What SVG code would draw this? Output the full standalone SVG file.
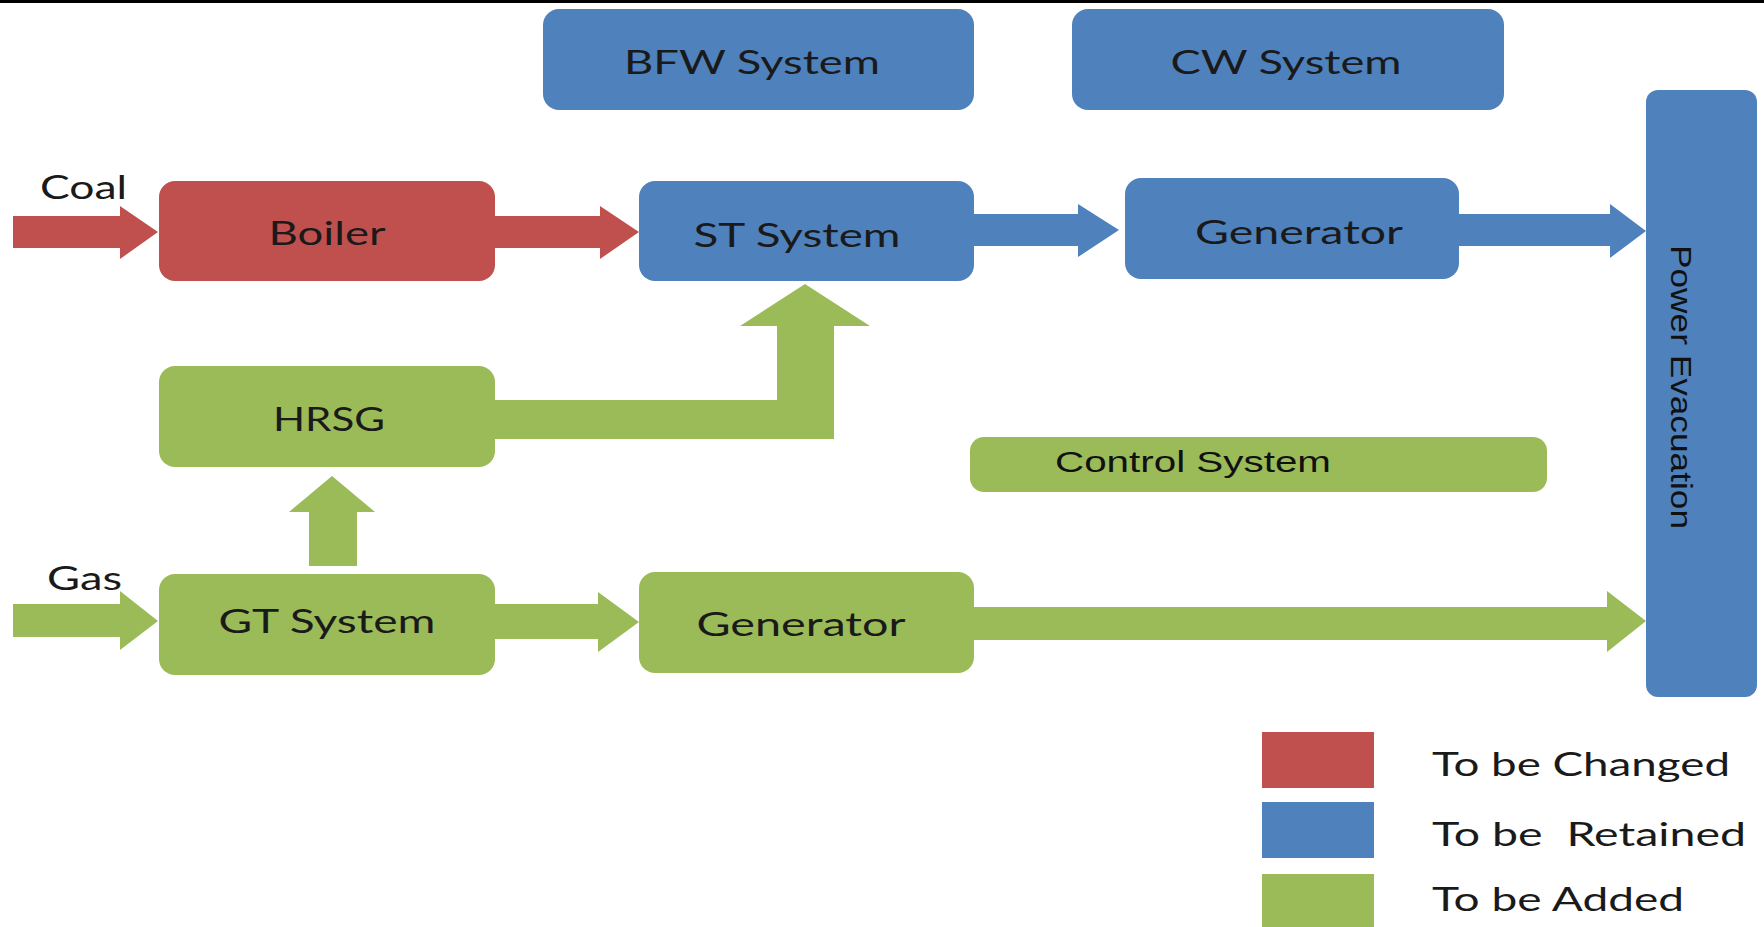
<svg xmlns="http://www.w3.org/2000/svg" width="1764" height="927" viewBox="0 0 1764 927">
<style>
.red{fill:#C0504D}
.blue{fill:#4F81BD}
.green{fill:#9BBB59}
.t{font-family:Lato,"Open Sans",sans-serif;font-size:32px;fill:#1a1a1a;text-anchor:middle}
.lab{font-family:Lato,"Open Sans",sans-serif;font-size:32px;fill:#1a1a1a}
.a{font-family:"Liberation Sans",Arial,sans-serif;font-size:30px;fill:#111}
</style>
<rect x="0" y="0" width="1764" height="927" fill="#fff"/>
<rect x="0" y="0" width="1764" height="3" fill="#000"/>

<g id="connectors">
  <!-- Coal -> Boiler -->
  <polygon class="red" points="13,216 120,216 120,206 158,232 120,259 120,248 13,248"/>
  <!-- Boiler -> ST -->
  <polygon class="red" points="495,216 600,216 600,206 639,232 600,259 600,248 495,248"/>
  <!-- ST -> Generator -->
  <polygon class="blue" points="974,214 1078,214 1078,204 1119,230 1078,257 1078,246 974,246"/>
  <!-- Generator -> Power Evacuation -->
  <polygon class="blue" points="1459,214 1610,214 1610,204 1646,231 1610,258 1610,246 1459,246"/>
  <!-- HRSG -> ST (elbow) -->
  <polygon class="green" points="495,400 777,400 777,326 740,326 805,284 870,326 834,326 834,439 495,439"/>
  <!-- GT -> HRSG -->
  <polygon class="green" points="309,566 309,512 289,512 332,476 375,512 357,512 357,566"/>
  <!-- Gas -> GT -->
  <polygon class="green" points="13,604 120,604 120,591 158,621 120,650 120,637 13,637"/>
  <!-- GT -> Generator -->
  <polygon class="green" points="495,604 598,604 598,592 639,622 598,652 598,639 495,639"/>
  <!-- Generator -> Power Evacuation -->
  <polygon class="green" points="974,607 1607,607 1607,591 1646,621 1607,652 1607,640 974,640"/>
</g>

<g id="bfw"><rect class="blue" x="543" y="9" width="431" height="101" rx="16"/><text class="t" x="752" y="74" textLength="256" lengthAdjust="spacingAndGlyphs">BFW System</text></g>
<g id="cw"><rect class="blue" x="1072" y="9" width="432" height="101" rx="16"/><text class="t" x="1286" y="74" textLength="231" lengthAdjust="spacingAndGlyphs">CW System</text></g>

<g id="coal"><text class="lab" x="40" y="199" textLength="87" lengthAdjust="spacingAndGlyphs">Coal</text></g>
<g id="boiler"><rect class="red" x="159" y="181" width="336" height="100" rx="16"/><text class="t" x="327" y="245" textLength="117" lengthAdjust="spacingAndGlyphs">Boiler</text></g>
<g id="st"><rect class="blue" x="639" y="181" width="335" height="100" rx="16"/><text class="t" x="797" y="247" textLength="207" lengthAdjust="spacingAndGlyphs">ST System</text></g>
<g id="gen1"><rect class="blue" x="1125" y="178" width="334" height="101" rx="16"/><text class="t" x="1299" y="244" textLength="208" lengthAdjust="spacingAndGlyphs">Generator</text></g>

<g id="pe"><rect class="blue" x="1646" y="90" width="111" height="607" rx="12"/><text class="a" font-size="37" transform="translate(1671,387) rotate(90)" text-anchor="middle" textLength="284" lengthAdjust="spacingAndGlyphs">Power Evacuation</text></g>

<g id="hrsg"><rect class="green" x="159" y="366" width="336" height="101" rx="16"/><text class="t" x="329" y="431" textLength="112" lengthAdjust="spacingAndGlyphs">HRSG</text></g>

<g id="control"><rect class="green" x="970" y="437" width="577" height="55" rx="14"/><text class="a" x="1055" y="472" font-size="28" textLength="276" lengthAdjust="spacingAndGlyphs">Control System</text></g>

<g id="gas"><text class="lab" x="47" y="590" textLength="75" lengthAdjust="spacingAndGlyphs">Gas</text></g>
<g id="gt"><rect class="green" x="159" y="574" width="336" height="101" rx="16"/><text class="t" x="327" y="633" textLength="217" lengthAdjust="spacingAndGlyphs">GT System</text></g>
<g id="gen2"><rect class="green" x="639" y="572" width="335" height="101" rx="16"/><text class="t" x="801" y="636" textLength="209" lengthAdjust="spacingAndGlyphs">Generator</text></g>

<g id="legend">
  <rect class="red" x="1262" y="732" width="112" height="56"/>
  <rect class="blue" x="1262" y="802" width="112" height="56"/>
  <rect class="green" x="1262" y="874" width="112" height="53"/>
  <text class="lab" x="1432" y="776" textLength="298" lengthAdjust="spacingAndGlyphs">To be Changed</text>
  <text class="lab" x="1432" y="846" textLength="314" lengthAdjust="spacingAndGlyphs" xml:space="preserve">To be  Retained</text>
  <text class="lab" x="1432" y="911" textLength="252" lengthAdjust="spacingAndGlyphs">To be Added</text>
</g>
</svg>
